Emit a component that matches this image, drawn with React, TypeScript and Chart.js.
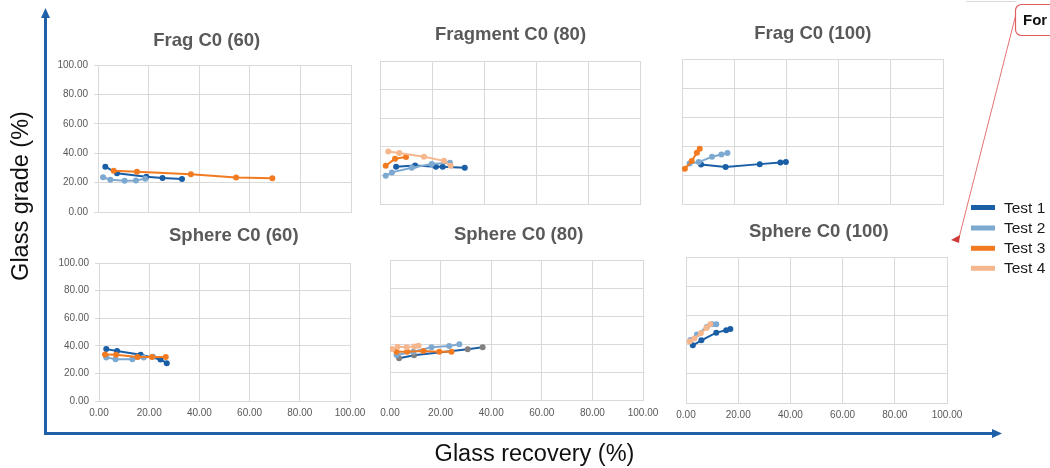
import React, { useEffect, useRef } from "react";
import { Chart, registerables } from "chart.js";

Chart.register(...registerables);

// ---------------- DATA ----------------
const SERIES_NAMES = ["Test 1", "Test 2", "Test 3", "Test 4"];
const AXIS_TICKS = [0, 20, 40, 60, 80, 100];
const TICK_LABELS = ["0.00", "20.00", "40.00", "60.00", "80.00", "100.00"];
const PANEL_TITLES = [
  "Frag C0 (60)",
  "Fragment C0 (80)",
  "Frag C0 (100)",
  "Sphere C0 (60)",
  "Sphere C0 (80)",
  "Sphere C0 (100)",
];
const X_AXIS_TITLE = "Glass recovery (%)";
const Y_AXIS_TITLE = "Glass grade (%)";
const NOTE_TEXT = "For";

// [glass recovery %, glass grade %]
const FRAG60_T1: number[][] = [[2.9, 30.8], [7.5, 26.3], [19.1, 24.0], [25.5, 23.1], [33.2, 22.4]];
const FRAG60_T2: number[][] = [[2.0, 23.6], [4.9, 22.0], [10.5, 21.3], [15.0, 21.5], [18.7, 22.7]];
const FRAG60_T3: number[][] = [[6.2, 28.1], [15.4, 27.4], [36.7, 25.6], [54.6, 23.4], [68.9, 22.9]];

const FRAG80_T1: number[][] = [[6.2, 26.0], [13.5, 27.0], [21.5, 26.0], [24.1, 26.0], [32.6, 25.3]];
const FRAG80_T2: number[][] = [[2.2, 19.8], [4.6, 22.1], [12.2, 25.3], [19.9, 27.9], [26.9, 28.8]];
const FRAG80_T3: number[][] = [[2.2, 26.7], [5.8, 31.6], [10.0, 32.8]];
const FRAG80_T4: number[][] = [[3.2, 36.7], [7.4, 35.6], [16.9, 33.0], [24.6, 30.2], [27.2, 26.7]];

const FRAG100_T1: number[][] = [[7.3, 27.3], [16.7, 25.5], [29.8, 27.5], [37.7, 28.7], [39.8, 28.9]];
const FRAG100_T2: number[][] = [[2.9, 28.0], [6.4, 28.9], [11.5, 32.6], [15.1, 34.2], [17.4, 35.1]];
const FRAG100_T3: number[][] = [[1.1, 24.3], [3.7, 29.6], [5.7, 35.3], [6.8, 38.1]];

const SPHERE60_T1: number[][] = [[2.9, 37.6], [7.2, 36.2], [16.6, 33.5], [24.5, 30.1], [27.0, 27.4]];
const SPHERE60_T2: number[][] = [[2.9, 31.6], [6.6, 30.3], [13.3, 30.3], [17.8, 31.6], [21.5, 32.0]];
const SPHERE60_T3: number[][] = [[2.4, 33.7], [6.8, 33.5], [15.4, 31.8], [21.1, 31.8], [26.6, 31.8]];

const SPHERE80_T1: number[][] = [[3.6, 29.8], [9.5, 31.9], [30.7, 36.2], [36.6, 37.6]];
const SPHERE80_T2: number[][] = [[2.6, 32.1], [9.2, 34.5], [16.4, 37.6], [23.4, 38.6], [27.4, 39.8]];
const SPHERE80_T3: number[][] = [[2.6, 34.5], [6.8, 34.5], [13.2, 35.0], [19.5, 34.5], [24.3, 34.5]];
const SPHERE80_T4: number[][] = [[0.9, 36.4], [3.0, 38.1], [6.6, 37.6], [9.6, 38.3], [11.3, 38.8]];

const SPHERE100_T1: number[][] = [[2.6, 39.5], [5.9, 42.9], [11.6, 48.2], [15.4, 49.8], [17.0, 50.7]];
const SPHERE100_T2: number[][] = [[1.7, 43.2], [4.2, 47.0], [8.0, 52.1], [10.0, 53.9], [11.6, 53.9]];
const SPHERE100_T4: number[][] = [[1.4, 42.2], [3.2, 44.1], [5.7, 47.7], [7.8, 51.4], [9.3, 53.9]];

const PANEL_SERIES: (number[][] | null)[][] = [
  [FRAG60_T1, FRAG60_T2, FRAG60_T3, null],
  [FRAG80_T1, FRAG80_T2, FRAG80_T3, FRAG80_T4],
  [FRAG100_T1, FRAG100_T2, FRAG100_T3, null],
  [SPHERE60_T1, SPHERE60_T2, SPHERE60_T3, null],
  [SPHERE80_T1, SPHERE80_T2, SPHERE80_T3, SPHERE80_T4],
  [SPHERE100_T1, SPHERE100_T2, null, SPHERE100_T4],
];

// ---------------- STYLE / LAYOUT ----------------
const W = 1050;
const H = 468;
const FONT = "'Liberation Sans', Arial, Helvetica, sans-serif";
const SERIES_COLORS = ["#1A5EA6", "#7DA9D1", "#F27B21", "#F7B78E"];
const MARKER_OVERRIDES: Record<string, string> = { "4-0": "#808080" };
const GRID = "#D9D9D9";
const TEXT_GREY = "#595959";
const ARROW_BLUE = "#1E5FA7";
const TITLE_SIZE = 18.5;
const Y_LABEL_AXIS_W = 46;
const X_LABEL_AXIS_H = 24;

const LAYOUT = [
  { L: 98, R: 351, T: 65, B: 212, cx: 206.7, cy: 41, yLabels: true, xLabels: false, xPad: 6 },
  { L: 380, R: 640, T: 61, B: 204, cx: 510.5, cy: 35.3, yLabels: false, xLabels: false, xPad: 6 },
  { L: 682, R: 943, T: 59, B: 204, cx: 812.8, cy: 34.3, yLabels: false, xLabels: false, xPad: 6 },
  { L: 99, R: 350, T: 263, B: 401, cx: 233.8, cy: 235.8, yLabels: true, xLabels: true, xPad: 6 },
  { L: 390, R: 643, T: 260, B: 400, cx: 518.7, cy: 235, yLabels: false, xLabels: true, xPad: 7 },
  { L: 686, R: 947, T: 257, B: 403, cx: 818.8, cy: 231.7, yLabels: false, xLabels: true, xPad: 6 },
];

const tickLabel = (v: number | string) => {
  const i = AXIS_TICKS.indexOf(Number(v));
  return i >= 0 ? TICK_LABELS[i] : "";
};

function Panel({ idx }: { idx: number }) {
  const ref = useRef<HTMLCanvasElement | null>(null);
  useEffect(() => {
    const lay = LAYOUT[idx];
    const lineH = TITLE_SIZE * 1.2;
    // left axis box width (must hold the tick labels, which are clipped to it)
    let yW = lay.yLabels ? Y_LABEL_AXIS_W : 0;
    // title is centred over [L - yW, R + yR]; pick yR so that centre = cx
    let yR = 2 * lay.cx - lay.L - lay.R + yW;
    if (yR < 0) {
      yW -= yR;
      yR = 0;
    }
    const xH = lay.xLabels ? X_LABEL_AXIS_H : 0;
    const padTop = lay.cy - lineH / 2;

    const datasets: any[] = [];
    PANEL_SERIES[idx].forEach((pts, i) => {
      if (!pts) return;
      const c = SERIES_COLORS[i];
      const mk = MARKER_OVERRIDES[`${idx}-${i}`] || c;
      datasets.push({
        label: SERIES_NAMES[i],
        data: pts.map(([x, y]) => ({ x, y })),
        showLine: true,
        borderColor: c,
        backgroundColor: mk,
        borderWidth: 2,
        pointRadius: 3,
        pointBorderWidth: 0,
        pointBackgroundColor: mk,
        pointBorderColor: mk,
        order: 4 - i,
      });
    });

    const chart = new Chart(ref.current as HTMLCanvasElement, {
      type: "scatter",
      data: { datasets },
      options: {
        responsive: false,
        animation: false,
        events: [],
        layout: {
          padding: {
            left: lay.L - yW,
            right: W - lay.R - yR,
            top: padTop,
            bottom: H - lay.B - xH,
          },
        },
        plugins: {
          legend: { display: false },
          tooltip: { enabled: false },
          title: {
            display: true,
            text: PANEL_TITLES[idx],
            color: TEXT_GREY,
            font: { family: FONT, size: TITLE_SIZE, weight: "bold" },
            padding: { top: 0, bottom: lay.T - padTop - lineH },
          },
        },
        scales: {
          x: {
            type: "linear",
            position: "bottom",
            min: 0,
            max: 100,
            ticks: {
              stepSize: 20,
              display: lay.xLabels,
              padding: lay.xPad,
              color: TEXT_GREY,
              font: { family: FONT, size: 10 },
              maxRotation: 0,
              callback: (v: any) => tickLabel(v),
            },
            grid: { color: GRID, drawTicks: false, lineWidth: 1 },
            border: { color: GRID },
            afterFit: (s: any) => {
              s.height = xH;
            },
          },
          y: {
            type: "linear",
            position: "left",
            min: 0,
            max: 100,
            ticks: {
              stepSize: 20,
              display: lay.yLabels,
              padding: 6,
              color: TEXT_GREY,
              font: { family: FONT, size: 10 },
              callback: (v: any) => tickLabel(v),
            },
            grid: { color: GRID, drawTicks: lay.yLabels, tickLength: 4, lineWidth: 1 },
            border: { color: GRID },
            afterFit: (s: any) => {
              s.width = yW;
            },
          },
          spacer: {
            type: "linear",
            position: "right",
            display: true,
            ticks: { display: false },
            grid: { display: false },
            border: { display: false },
            afterFit: (s: any) => {
              s.width = yR;
            },
          },
        },
      } as any,
    });
    return () => chart.destroy();
  }, [idx]);
  return (
    <canvas
      ref={ref}
      width={W}
      height={H}
      style={{ position: "absolute", left: 0, top: 0, width: W, height: H }}
    />
  );
}

const LEGEND_ROWS = [207.5, 228, 248.3, 268.3];

export default function App() {
  return (
    <div
      style={{
        position: "absolute",
        left: 0,
        top: 0,
        width: W,
        height: H,
        background: "#ffffff",
        overflow: "hidden",
        fontFamily: FONT,
      }}
    >
      {LAYOUT.map((_, i) => (
        <Panel key={i} idx={i} />
      ))}
      <svg
        width={W}
        height={H}
        style={{ position: "absolute", left: 0, top: 0, pointerEvents: "none" }}
      >
        {/* big axes arrows */}
        <line x1={45.5} y1={435} x2={45.5} y2={16} stroke={ARROW_BLUE} strokeWidth={3} />
        <polygon points="45.5,8 41,18 50,18" fill={ARROW_BLUE} />
        <line x1={44} y1={433.5} x2={994} y2={433.5} stroke={ARROW_BLUE} strokeWidth={3} />
        <polygon points="1002,433.5 992,429 992,438" fill={ARROW_BLUE} />
        {/* annotation */}
        <line x1={966} y1={1.5} x2={1016} y2={1.5} stroke="#DADADA" strokeWidth={1} />
        <line x1={1016} y1={14} x2={959} y2={238} stroke="#E57373" strokeWidth={1} />
        <polygon points="951,240 960,235 959,243" fill="#D23A3A" />
        <rect x={1015.5} y={4.5} width={60} height={31} rx={6} ry={6} fill="#ffffff" stroke="#E06060" strokeWidth={1.2} />
        <text x={1023} y={24.5} fontFamily={FONT} fontSize={15} fontWeight="bold" fill="#111">
          {NOTE_TEXT}
        </text>
        {/* legend swatches */}
        {LEGEND_ROWS.map((y, i) => (
          <rect key={i} x={971} y={y - 2.5} width={24} height={5} fill={SERIES_COLORS[i]} />
        ))}
      </svg>
      {LEGEND_ROWS.map((y, i) => (
        <div
          key={i}
          style={{
            position: "absolute",
            left: 1004,
            top: y,
            transform: "translateY(-50%)",
            fontSize: 15.5,
            lineHeight: 1,
            color: "#1a1a1a",
            whiteSpace: "nowrap",
          }}
        >
          {SERIES_NAMES[i]}
        </div>
      ))}
      <div
        style={{
          position: "absolute",
          left: 21,
          top: 196,
          transform: "translate(-50%, -50%) rotate(-90deg)",
          fontSize: 23.5,
          lineHeight: 1,
          color: "#111",
          whiteSpace: "nowrap",
        }}
      >
        {Y_AXIS_TITLE}
      </div>
      <div
        style={{
          position: "absolute",
          left: 534.5,
          top: 453.5,
          transform: "translate(-50%, -50%)",
          fontSize: 23.5,
          lineHeight: 1,
          color: "#111",
          whiteSpace: "nowrap",
        }}
      >
        {X_AXIS_TITLE}
      </div>
    </div>
  );
}
